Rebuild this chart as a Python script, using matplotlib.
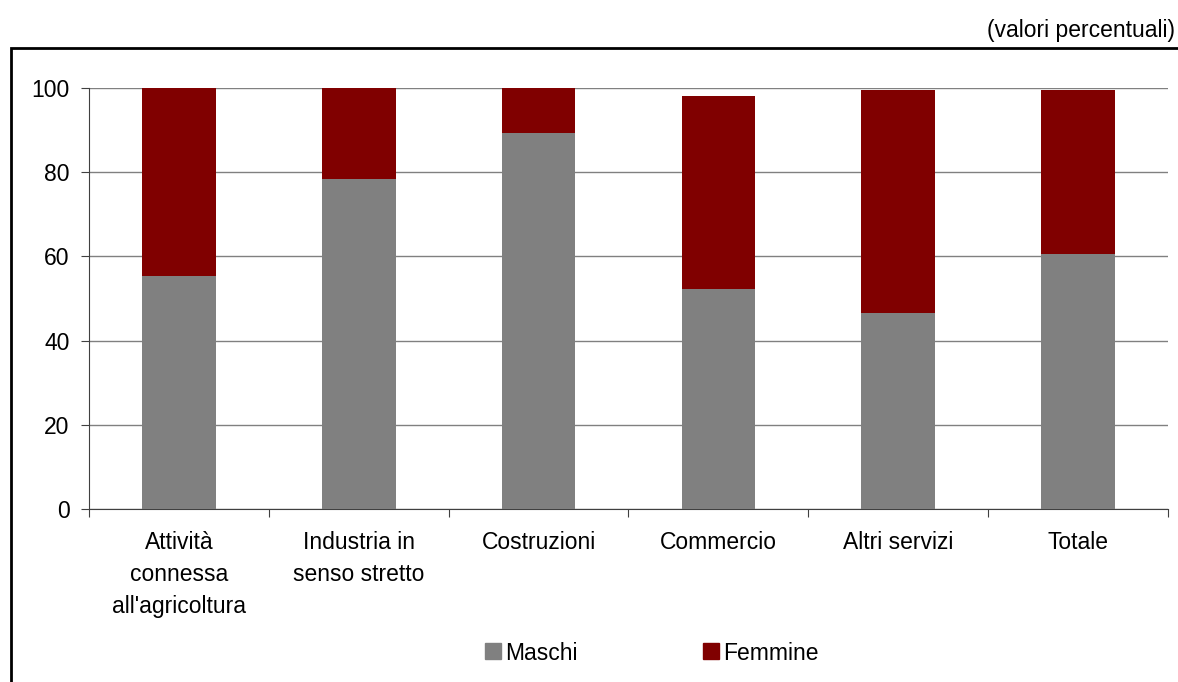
import numpy as np
import matplotlib.pyplot as plt
from matplotlib.patches import Rectangle
from matplotlib.lines import Line2D

plt.rcParams['font.family'] = ['Liberation Sans', 'DejaVu Sans']

categorie = ['Attività\nconnessa\nall\'agricoltura', 'Industria in\nsenso stretto',
             'Costruzioni', 'Commercio', 'Altri servizi', 'Totale']
maschi = [55.3, 78.5, 89.3, 52.2, 46.5, 60.5]
femmine = [44.7, 21.5, 10.7, 46.0, 53.0, 39.0]

grigio = '#808080'
rosso = '#800000'
fs = 16.5

fig = plt.figure(figsize=(11.78, 6.82), dpi=100)
ax = fig.add_axes([89/1178, 1-509/682, 1079/1178, 421/682])

x = np.arange(len(categorie))
ax.bar(x, maschi, width=0.41, color=grigio, zorder=3)
ax.bar(x, femmine, width=0.41, bottom=maschi, color=rosso, zorder=3)

ax.set_xlim(-0.5, len(categorie) - 0.5)
ax.set_ylim(0, 100)
ax.set_yticks(range(0, 101, 20))
ax.yaxis.grid(True, color=grigio, linewidth=1, zorder=0)
ax.set_axisbelow(True)

for s in ['top', 'right']:
    ax.spines[s].set_visible(False)
ax.spines['left'].set_color('#404040')
ax.spines['bottom'].set_color('#404040')

# tick di separazione tra le categorie, etichette al centro
ax.set_xticks(np.arange(-0.5, len(categorie)))
ax.set_xticklabels([])
ax.tick_params(axis='x', direction='out', length=6, color='#404040')
ax.set_xticks(x, minor=True)
ax.set_xticklabels(categorie, minor=True, fontsize=fs, va='top', linespacing=1.5)
ax.tick_params(axis='x', which='minor', length=0, pad=16)
ax.tick_params(axis='y', direction='out', length=6, color='#404040', labelsize=fs, pad=8)

handles = [Line2D([], [], marker='s', linestyle='', color=grigio, markersize=11),
           Line2D([], [], marker='s', linestyle='', color=rosso, markersize=11)]
fig.legend(handles, ['Maschi', 'Femmine'], loc='center', bbox_to_anchor=(650/1178, 1-653/682),
           ncol=2, frameon=False, fontsize=fs, columnspacing=5.3, handletextpad=0.05,
           handlelength=1)

fig.text(1175/1178, 1-30/682, '(valori percentuali)', ha='right', va='center', fontsize=fs)

fig.patches.append(Rectangle((11/1178, -0.05), 1.1, 1-48/682+0.05, transform=fig.transFigure,
                             fill=False, edgecolor='black', linewidth=2))

fig.savefig('out.png', dpi=100)
